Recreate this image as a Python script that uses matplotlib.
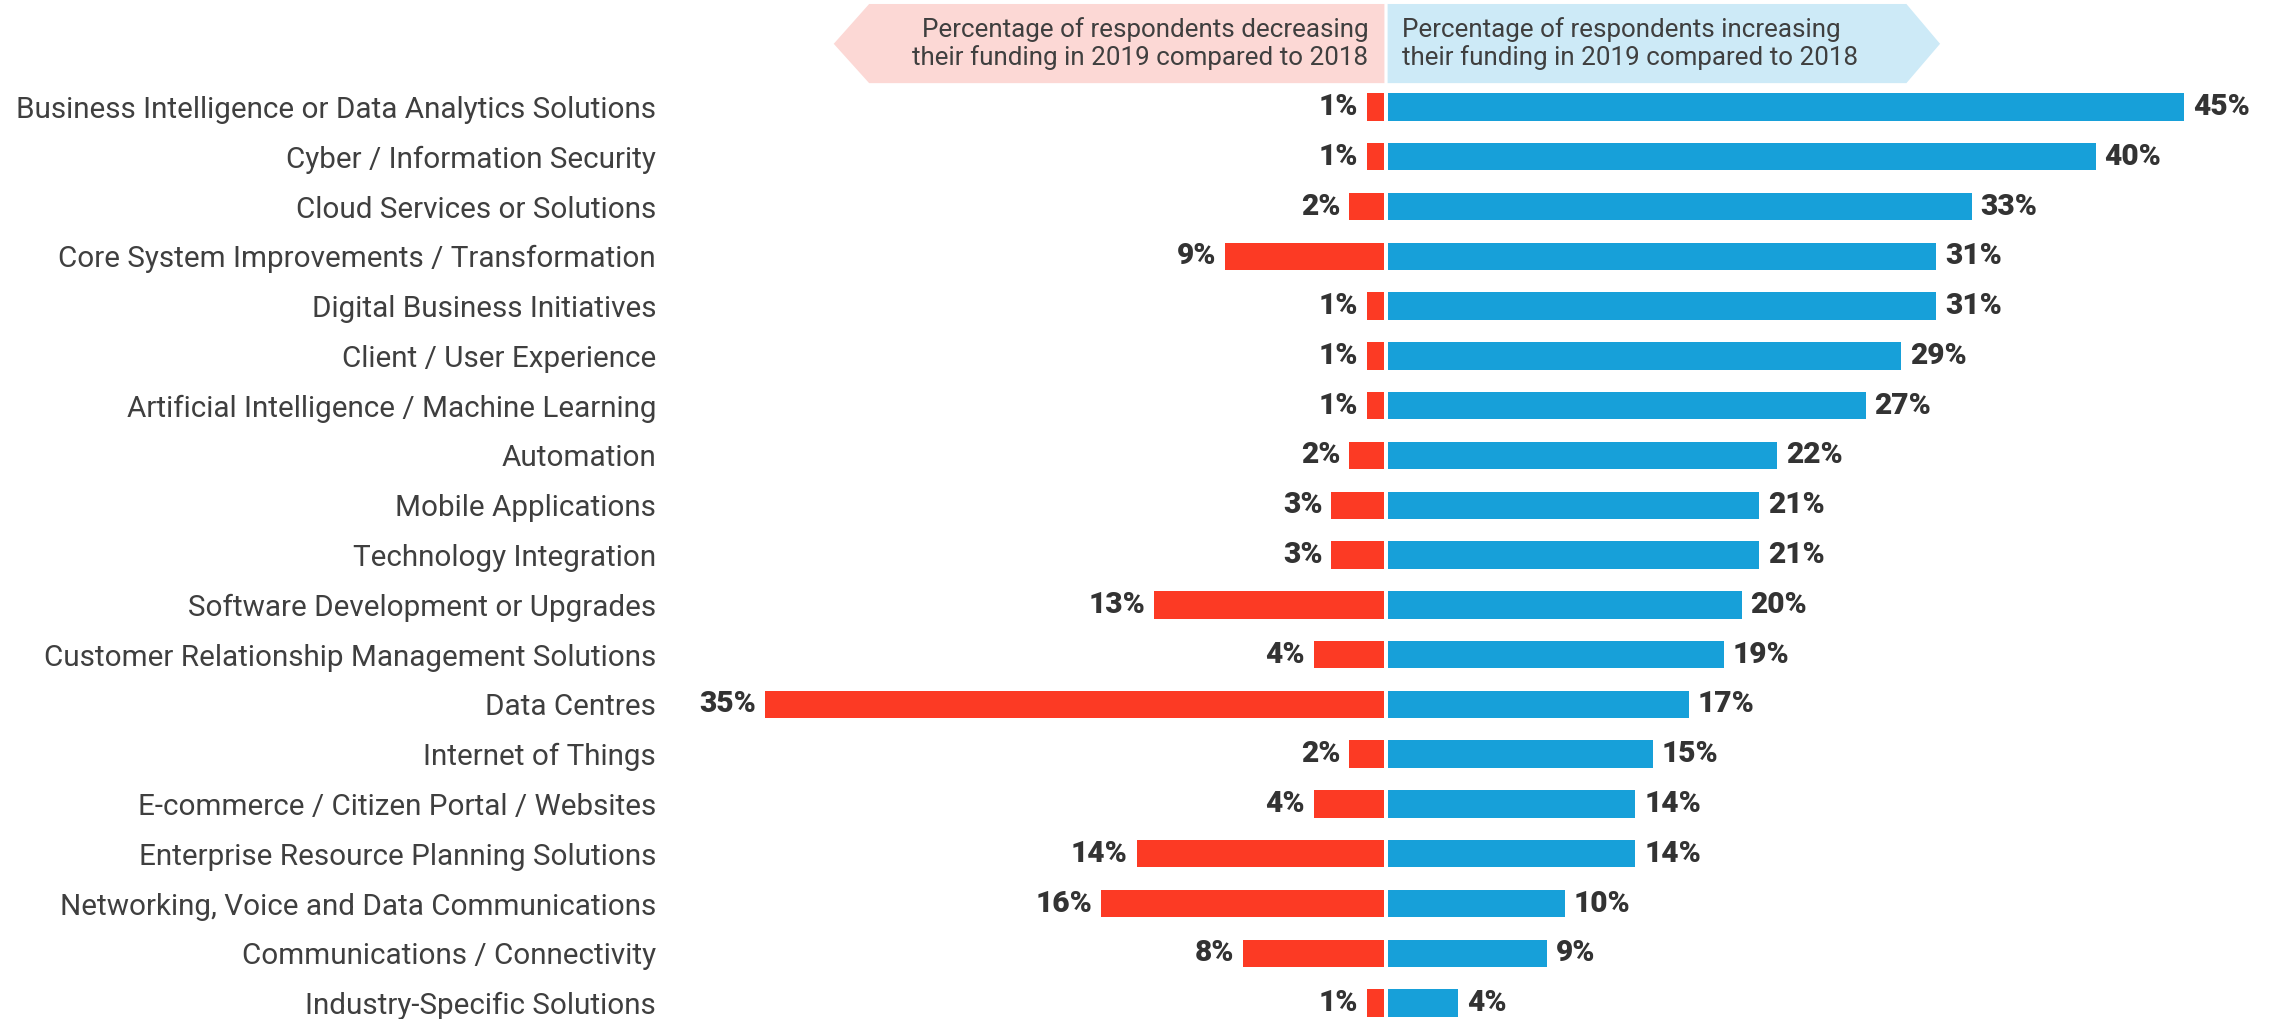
import matplotlib.pyplot as plt
from matplotlib.patches import Polygon

# données (haut -> bas)
categories = [
    "Business Intelligence or Data Analytics Solutions",
    "Cyber / Information Security",
    "Cloud Services or Solutions",
    "Core System Improvements / Transformation",
    "Digital Business Initiatives",
    "Client / User Experience",
    "Artificial Intelligence / Machine Learning",
    "Automation",
    "Mobile Applications",
    "Technology Integration",
    "Software Development or Upgrades",
    "Customer Relationship Management Solutions",
    "Data Centres",
    "Internet of Things",
    "E-commerce / Citizen Portal / Websites",
    "Enterprise Resource Planning Solutions",
    "Networking, Voice and Data Communications",
    "Communications / Connectivity",
    "Industry-Specific Solutions",
]
increasing = [45, 40, 33, 31, 31, 29, 27, 22, 21, 21, 20, 19, 17, 15, 14, 14, 10, 9, 4]
decreasing = [1, 1, 2, 9, 1, 1, 1, 2, 3, 3, 13, 4, 35, 2, 4, 14, 16, 8, 1]

header_dec = "Percentage of respondents decreasing\ntheir funding in 2019 compared to 2018"
header_inc = "Percentage of respondents increasing\ntheir funding in 2019 compared to 2018"

RED = "#fc3a24"
BLUE = "#17a0d9"
TXT = "#3f3f3f"
gap = 0.18

plt.rcParams['font.family'] = ['Roboto', 'DejaVu Sans']

fig = plt.figure(figsize=(22.9, 10.19), dpi=100)
ax = fig.add_axes([670 / 2290, 0, 1 - 670 / 2290, 1])

y = list(range(len(categories)))
ax.barh(y, [-d for d in decreasing], left=-gap / 2, height=0.55, color=RED)
ax.barh(y, increasing, left=gap / 2, height=0.55, color=BLUE)

for yi, d, v in zip(y, decreasing, increasing):
    ax.text(-d - gap / 2 - 0.5, yi, f"{d}%", ha="right", va="center",
            fontsize=21.5, fontweight="heavy", color="#333333")
    ax.text(v + gap / 2 + 0.5, yi, f"{v}%", ha="left", va="center",
            fontsize=21.5, fontweight="heavy", color="#333333")

ax.set_xlim(-40.45, 51.07)
ax.set_ylim(18.32, -2.15)
ax.set_yticks(y)
ax.set_yticklabels(categories, fontsize=21.3, color=TXT)
ax.tick_params(axis="y", length=0, pad=10)
ax.set_xticks([])
for s in ax.spines.values():
    s.set_visible(False)

# bandeaux fléchés de l'en-tête
top, bot, mid = -2.07, -0.48, -1.27
pink = Polygon([(-31.2, mid), (-29.2, top), (-gap / 2, top), (-gap / 2, bot), (-29.2, bot)],
               closed=True, facecolor="#fcd8d5", edgecolor="none", clip_on=False)
blue = Polygon([(gap / 2, top), (29.4, top), (31.3, mid), (29.4, bot), (gap / 2, bot)],
               closed=True, facecolor="#cdeaf7", edgecolor="none", clip_on=False)
ax.add_patch(pink)
ax.add_patch(blue)
ax.text(-1.0, mid, header_dec, ha="right", va="center", fontsize=18.7, color=TXT, linespacing=1.15)
ax.text(0.9, mid, header_inc, ha="left", va="center", fontsize=18.7, color=TXT, linespacing=1.15)

fig.savefig("out.png", dpi=100, facecolor="white")
